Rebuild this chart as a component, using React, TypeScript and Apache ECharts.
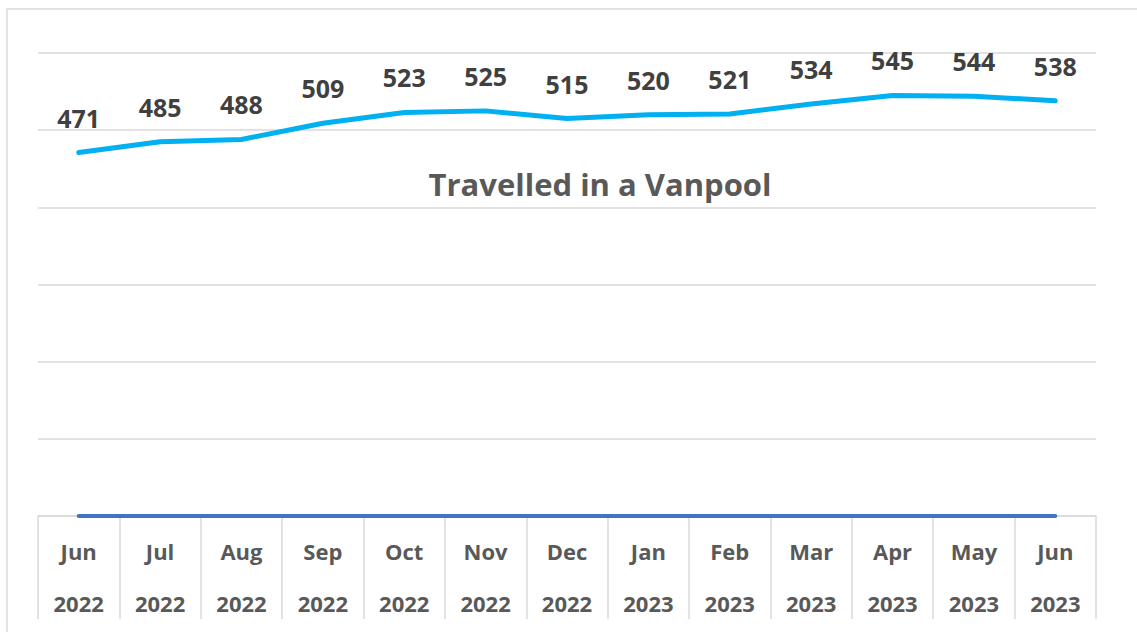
import React, { useEffect, useRef } from "react";
import * as echarts from "echarts";

const months = ["Jun", "Jul", "Aug", "Sep", "Oct", "Nov", "Dec", "Jan", "Feb", "Mar", "Apr", "May", "Jun"];
const years = ["2022", "2022", "2022", "2022", "2022", "2022", "2022", "2023", "2023", "2023", "2023", "2023", "2023"];
const vanpool = [471, 485, 488, 509, 523, 525, 515, 520, 521, 534, 545, 544, 538];
const baseline = [0, 0, 0, 0, 0, 0, 0, 0, 0, 0, 0, 0, 0];
const titleText = "Travelled in a Vanpool";

const FONT = "'Open Sans', 'Noto Sans', sans-serif";

export default function App() {
  const ref = useRef<HTMLDivElement>(null);
  useEffect(() => {
    if (!ref.current) return;
    const chart = echarts.init(ref.current, null, { renderer: "svg" });
    const categories = months.map((m, i) => m + "\n\n" + years[i]);
    chart.setOption({
      animation: false,
      backgroundColor: "#ffffff",
      textStyle: { fontFamily: FONT },
      grid: { left: 38, right: 41, top: 53, bottom: 116 },
      xAxis: {
        type: "category",
        data: categories,
        boundaryGap: true,
        axisLine: { show: true, lineStyle: { color: "#d9d9d9", width: 1.5 } },
        axisTick: { show: true, interval: 0, length: 103, lineStyle: { color: "#d9d9d9", width: 1.5 } },
        axisLabel: {
          interval: 0,
          margin: 22,
          color: "#595959",
          fontSize: 22,
          fontWeight: "bold",
          lineHeight: 26,
          fontFamily: FONT,
        },
      },
      yAxis: {
        type: "value",
        min: 0,
        max: 600,
        interval: 100,
        axisLabel: { show: false },
        axisLine: { show: false },
        axisTick: { show: false },
        splitLine: { show: true, lineStyle: { color: "#d9d9d9", width: 1.5 } },
      },
      graphic: [
        {
          type: "rect",
          shape: { x: 7, y: 9, width: 1200, height: 700 },
          style: { fill: "none", stroke: "#d9d9d9", lineWidth: 1.5 },
          silent: true,
        },
        {
          type: "text",
          x: 600,
          y: 184,
          style: {
            text: titleText,
            fill: "#595959",
            font: "bold 31px " + FONT,
            textAlign: "center",
            textVerticalAlign: "middle",
          },
        },
      ],
      series: [
        {
          type: "line",
          data: baseline,
          symbol: "none",
          z: 5,
          lineStyle: { color: "#4472C4", width: 4, cap: "round" },
        },
        {
          type: "line",
          data: vanpool,
          symbol: "circle",
          symbolSize: 1,
          showSymbol: true,
          itemStyle: { color: "rgba(0,0,0,0)" },
          z: 6,
          lineStyle: { color: "#00B0F0", width: 5, cap: "round", join: "round" },
          label: {
            show: true,
            position: "top",
            distance: 22,
            color: "#404040",
            fontSize: 25,
            fontWeight: "bold",
            fontFamily: FONT,
          },
        },
      ],
    });
    return () => chart.dispose();
  }, []);
  return (
    <div
      ref={ref}
      style={{ position: "absolute", left: 0, top: 0, width: 1137, height: 632 }}
    />
  );
}
